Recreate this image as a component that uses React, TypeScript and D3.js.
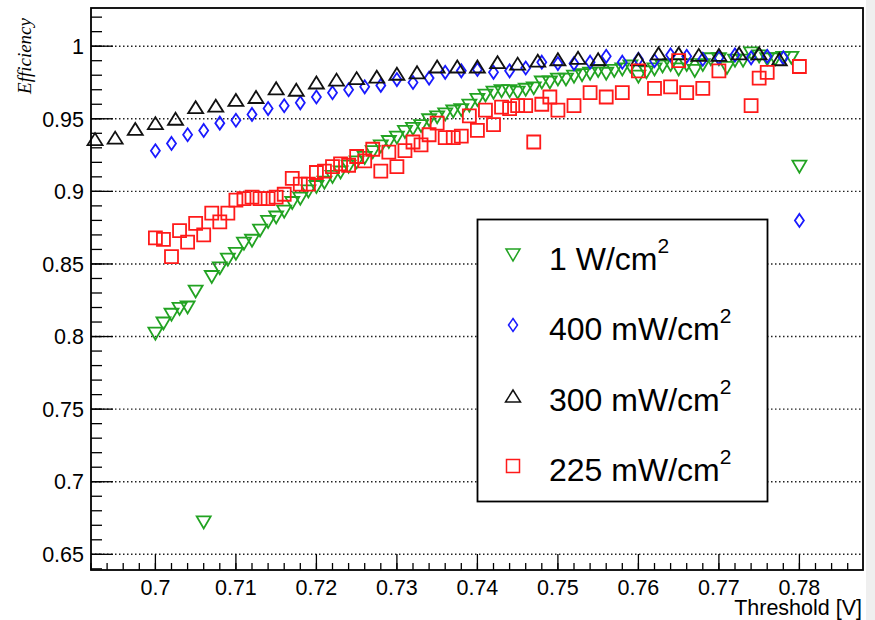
import React from "react";
import * as d3 from "d3";

// ---- data ----
const xTickValues = [0.7, 0.71, 0.72, 0.73, 0.74, 0.75, 0.76, 0.77, 0.78];
const xTickLabels = ["0.7", "0.71", "0.72", "0.73", "0.74", "0.75", "0.76", "0.77", "0.78"];
const yTickValues = [0.65, 0.7, 0.75, 0.8, 0.85, 0.9, 0.95, 1];
const yTickLabels = ["0.65", "0.7", "0.75", "0.8", "0.85", "0.9", "0.95", "1"];

// 1 W/cm2 (green, down triangles)
const greenX = [
  0.700, 0.701, 0.702, 0.703, 0.704, 0.705, 0.706, 0.707, 0.708, 0.709,
  0.710, 0.711, 0.712, 0.713, 0.714, 0.715, 0.716, 0.717, 0.718, 0.719,
  0.720, 0.721, 0.722, 0.723, 0.724, 0.725, 0.726, 0.727, 0.728, 0.729,
  0.730, 0.731, 0.732, 0.733, 0.734, 0.735, 0.736, 0.737, 0.738, 0.739,
  0.740, 0.741, 0.742, 0.743, 0.744, 0.745, 0.746, 0.747, 0.748, 0.749,
  0.750, 0.751, 0.752, 0.753, 0.754, 0.755, 0.756, 0.757, 0.758, 0.759,
  0.760, 0.761, 0.762, 0.763, 0.764, 0.765, 0.766, 0.767, 0.768, 0.769,
  0.770, 0.771, 0.772, 0.773, 0.774, 0.775, 0.776, 0.777, 0.778, 0.779,
  0.780,
];
const greenY = [
  0.802, 0.809, 0.815, 0.819, 0.820, 0.831, 0.672, 0.841, 0.847, 0.853,
  0.857, 0.864, 0.866, 0.873, 0.879, 0.882, 0.886, 0.892, 0.895, 0.900,
  0.903, 0.906, 0.910, 0.913, 0.917, 0.920, 0.923, 0.927, 0.931, 0.934,
  0.937, 0.941, 0.943, 0.945, 0.949, 0.951, 0.953, 0.955, 0.956, 0.959,
  0.963, 0.966, 0.968, 0.969, 0.969, 0.968, 0.970, 0.971, 0.975, 0.975,
  0.977, 0.977, 0.979, 0.980, 0.981, 0.983, 0.981, 0.983, 0.984, 0.986,
  0.979, 0.982, 0.984, 0.986, 0.987, 0.984, 0.987, 0.983, 0.987, 0.991,
  0.991, 0.985, 0.990, 0.990, 0.995, 0.993, 0.991, 0.991, 0.992, 0.992,
  0.917,
];

// 400 mW/cm2 (blue diamonds)
const blueX = [
  0.700, 0.702, 0.704, 0.706, 0.708, 0.710, 0.712, 0.714, 0.716, 0.718,
  0.720, 0.722, 0.724, 0.726, 0.728, 0.730, 0.732, 0.734, 0.736, 0.738,
  0.740, 0.742, 0.744, 0.746, 0.748, 0.750, 0.752, 0.754, 0.756, 0.758,
  0.760, 0.762, 0.764, 0.766, 0.768, 0.770, 0.772, 0.774, 0.776, 0.778,
  0.780,
];
const blueY = [
  0.928, 0.933, 0.939, 0.942, 0.947, 0.949, 0.953, 0.957, 0.959, 0.961,
  0.965, 0.968, 0.970, 0.972, 0.973, 0.977, 0.975, 0.978, 0.982, 0.983,
  0.984, 0.982, 0.983, 0.985, 0.989, 0.988, 0.988, 0.989, 0.993, 0.989,
  0.991, 0.990, 0.994, 0.993, 0.991, 0.992, 0.994, 0.992, 0.993, 0.992,
  0.880,
];

// 300 mW/cm2 (black up triangles)
const blackX = [
  0.6925, 0.695, 0.6975, 0.7, 0.7025, 0.705, 0.7075, 0.71, 0.7125, 0.715,
  0.7175, 0.72, 0.7225, 0.725, 0.7275, 0.73, 0.7325, 0.735, 0.7375, 0.74,
  0.7425, 0.745, 0.7475, 0.75, 0.7525, 0.755, 0.76, 0.7625, 0.765, 0.7675,
  0.77, 0.7725, 0.775, 0.7775,
];
const blackY = [
  0.936, 0.937, 0.943, 0.947, 0.950, 0.958, 0.959, 0.963, 0.965, 0.971,
  0.970, 0.975, 0.977, 0.978, 0.979, 0.981, 0.982, 0.986, 0.986, 0.986,
  0.989, 0.988, 0.990, 0.991, 0.992, 0.991, 0.991, 0.995, 0.995, 0.994,
  0.994, 0.995, 0.995, 0.991,
];

// 225 mW/cm2 (red squares)
const redX = [
  0.700, 0.701, 0.702, 0.703, 0.704, 0.705, 0.706, 0.707, 0.708, 0.709,
  0.710, 0.711, 0.712, 0.713, 0.714, 0.715, 0.716, 0.717, 0.718, 0.719,
  0.720, 0.721, 0.722, 0.723, 0.724, 0.725, 0.726, 0.727, 0.728, 0.729,
  0.730, 0.731, 0.732, 0.733, 0.734, 0.735, 0.736, 0.737, 0.738, 0.739,
  0.740, 0.741, 0.742, 0.743, 0.744, 0.745, 0.746, 0.747, 0.748, 0.749,
  0.750, 0.752, 0.754, 0.756, 0.758, 0.760, 0.762, 0.764, 0.765, 0.766,
  0.768, 0.770, 0.774, 0.775, 0.776, 0.780,
];
const redY = [
  0.868, 0.867, 0.855, 0.873, 0.865, 0.878, 0.870, 0.885, 0.879, 0.885,
  0.894, 0.895, 0.896, 0.895, 0.895, 0.896, 0.898, 0.909, 0.905, 0.905,
  0.913, 0.914, 0.917, 0.919, 0.918, 0.924, 0.921, 0.929, 0.914, 0.927,
  0.917, 0.928, 0.934, 0.932, 0.939, 0.947, 0.937, 0.937, 0.938, 0.952,
  0.942, 0.956, 0.946, 0.958, 0.957, 0.959, 0.959, 0.934, 0.960, 0.965,
  0.956, 0.959, 0.968, 0.965, 0.968, 0.983, 0.971, 0.972, 0.990, 0.968,
  0.971, 0.983, 0.959, 0.978, 0.982, 0.986,
];

const seriesLabels = ["1 W/cm", "400 mW/cm", "300 mW/cm", "225 mW/cm"];

// ---- layout ----
const W = 875;
const H = 620;
const L = 91, R = 863, T = 8, B = 570;

const x = d3.scaleLinear().domain([0.692, 0.7879]).range([L, R]);
const y = d3.scaleLinear().domain([0.6392, 1.0263]).range([B, T]);

type Shape = "down" | "up" | "diamond" | "square";

function markerPath(shape: Shape): string {
  const p = d3.path();
  if (shape === "down") {
    const w = 14, h = 12;
    p.moveTo(-w / 2, -h / 2); p.lineTo(w / 2, -h / 2); p.lineTo(0, h / 2); p.closePath();
  } else if (shape === "up") {
    const w = 15, h = 12;
    p.moveTo(-w / 2, h / 2); p.lineTo(w / 2, h / 2); p.lineTo(0, -h / 2); p.closePath();
  } else if (shape === "diamond") {
    const w = 9, h = 13;
    p.moveTo(0, -h / 2); p.lineTo(w / 2, 0); p.lineTo(0, h / 2); p.lineTo(-w / 2, 0); p.closePath();
  } else {
    const s = 13;
    p.rect(-s / 2, -s / 2, s, s);
  }
  return p.toString();
}

const series = [
  { xs: greenX, ys: greenY, shape: "down" as Shape, color: "#22a322" },
  { xs: blueX, ys: blueY, shape: "diamond" as Shape, color: "#1a1aff" },
  { xs: blackX, ys: blackY, shape: "up" as Shape, color: "#111111" },
  { xs: redX, ys: redY, shape: "square" as Shape, color: "#ff1a1a" },
];

export default function App() {
  const font = "'Liberation Sans', Arial, sans-serif";
  const xMinor = d3.range(0.692, 0.7879, 0.002);
  const yMinor = d3.range(0.64, 1.0263, 0.01);
  const legendRows = [255, 325, 396, 466];
  return (
    <svg width={W} height={H} style={{ position: "absolute", left: 0, top: 0, display: "block", background: "#fff" }}>
      <rect x={0} y={0} width={W} height={H} fill="#ffffff" />
      <rect x={866} y={0} width={W - 866} height={H} fill="#efefef" />
      {/* gridlines */}
      {yTickValues.map((v, i) => (
        <line key={"g" + i} x1={L} x2={R} y1={y(v)} y2={y(v)} stroke="#222" strokeWidth={1.4} strokeDasharray="1.5,2.5" />
      ))}
      {/* y ticks */}
      {yMinor.map((v, i) => (
        <line key={"ym" + i} x1={L} x2={L + 11} y1={y(v)} y2={y(v)} stroke="#000" strokeWidth={1.3} />
      ))}
      {yTickValues.map((v, i) => (
        <line key={"yM" + i} x1={L} x2={L + 22} y1={y(v)} y2={y(v)} stroke="#000" strokeWidth={1.3} />
      ))}
      {/* x ticks */}
      {xMinor.map((v, i) => (
        <line key={"xm" + i} x1={x(v)} x2={x(v)} y1={B} y2={B - 7} stroke="#000" strokeWidth={1.3} />
      ))}
      {xTickValues.map((v, i) => (
        <line key={"xM" + i} x1={x(v)} x2={x(v)} y1={B} y2={B - 16} stroke="#000" strokeWidth={1.3} />
      ))}
      {/* markers */}
      {series.map((s, si) => (
        <g key={"s" + si} fill="none" stroke={s.color} strokeWidth={1.8}>
          {s.xs.map((xv, i) => (
            <path key={i} d={markerPath(s.shape)} transform={`translate(${x(xv)},${y(s.ys[i])})`} />
          ))}
        </g>
      ))}
      {/* frame */}
      <rect x={L} y={T} width={R - L} height={B - T} fill="none" stroke="#000" strokeWidth={1.8} />
      {/* tick labels */}
      {yTickValues.map((v, i) => (
        <text key={"yl" + i} x={84} y={y(v)} dy="0.36em" textAnchor="end" fontFamily={font} fontSize={21.5} fill="#000">
          {yTickLabels[i]}
        </text>
      ))}
      {xTickValues.map((v, i) => (
        <text key={"xl" + i} x={x(v)} y={595} textAnchor="middle" fontFamily={font} fontSize={21.5} fill="#000">
          {xTickLabels[i]}
        </text>
      ))}
      {/* axis titles */}
      <text x={862} y={615} textAnchor="end" fontFamily={font} fontSize={21.5} fill="#000">Threshold [V]</text>
      <text transform="translate(31,18) rotate(-90)" textAnchor="end" fontFamily="'Liberation Serif', 'Times New Roman', serif" fontStyle="italic" fontSize={19} fill="#000">Efficiency</text>
      {/* legend */}
      <rect x={477.5} y={219.5} width={290} height={282} fill="#fff" stroke="#000" strokeWidth={1.8} />
      {series.map((s, i) => (
        <g key={"lg" + i}>
          <path d={markerPath(s.shape)} transform={`translate(513,${legendRows[i]})`} fill="none" stroke={s.color} strokeWidth={1.5} />
          <text x={549} y={legendRows[i] + 15} fontFamily={font} fontSize={32} fill="#000">
            {seriesLabels[i]}
            <tspan fontSize={21} dy={-17}>2</tspan>
          </text>
        </g>
      ))}
    </svg>
  );
}
